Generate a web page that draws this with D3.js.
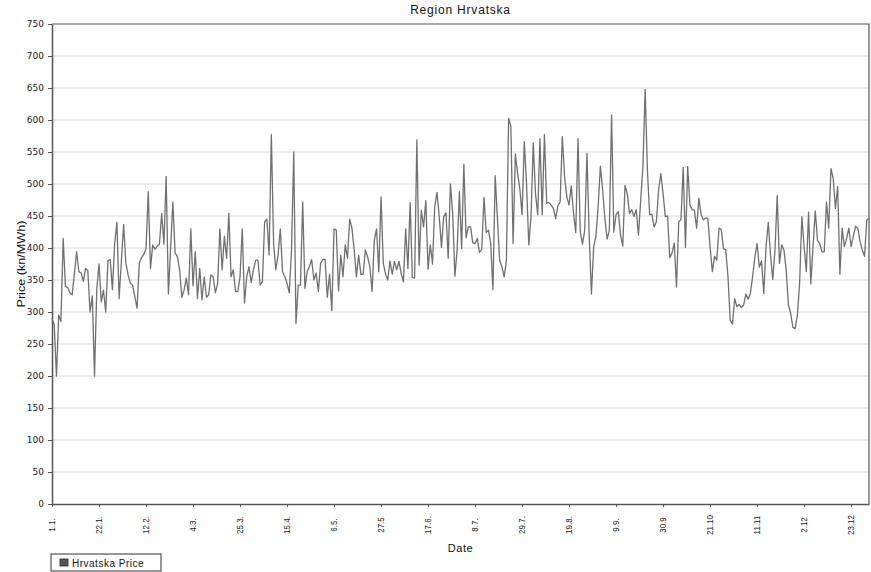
<!DOCTYPE html>
<html lang="en">
<head>
    <meta charset="UTF-8">
    <title>Region Hrvatska</title>
    <script src="https://cdn.jsdelivr.net/npm/d3@7/dist/d3.min.js"></script>
    <style>
        body { margin: 0; background: #fff; }
        svg { display: block; }
    </style>
</head>
<body>
<div id="container"></div>
<script>
    // daily price, 1.1. to 31.12. (leap year, 366 days)
    var prices = [
        290, 280, 200, 295, 285, 415, 340, 338, 330, 327,
        360, 394, 363, 361, 348, 368, 365, 300, 325, 200,
        335, 375, 316, 334, 300, 380, 382, 335, 407, 440,
        321, 380, 437, 376, 358, 345, 342, 324, 306, 376,
        385, 390, 399, 488, 368, 405, 398, 403, 406, 454,
        406, 512, 328, 400, 472, 392, 387, 366, 323, 334,
        353, 327, 430, 341, 394, 321, 368, 319, 355, 323,
        327, 358, 355, 330, 345, 430, 366, 418, 384, 454,
        355, 366, 332, 332, 355, 430, 314, 355, 371, 346,
        366, 381, 381, 342, 347, 441, 445, 389, 577, 407,
        366, 389, 430, 363, 355, 345, 330, 397, 550, 282,
        342, 342, 472, 337, 363, 371, 382, 350, 361, 332,
        376, 382, 382, 323, 359, 302, 430, 428, 333, 389,
        355, 405, 384, 445, 431, 397, 355, 389, 359, 359,
        397, 386, 371, 332, 412, 430, 363, 480, 376, 360,
        350, 380, 359, 379, 366, 379, 360, 347, 430, 368,
        471, 354, 353, 569, 373, 459, 433, 474, 367, 405,
        375, 465, 487, 449, 401, 449, 455, 384, 500, 454,
        356, 397, 488, 399, 531, 416, 433, 433, 408, 407,
        415, 393, 398, 479, 424, 428, 407, 335, 513, 446,
        380, 371, 355, 379, 603, 590, 407, 547, 517, 493,
        452, 566, 501, 405, 449, 564, 485, 452, 571, 452,
        577, 470, 471, 467, 462, 446, 466, 472, 574, 511,
        480, 467, 497, 454, 424, 571, 425, 406, 428, 548,
        418, 328, 402, 418, 465, 528, 491, 446, 414, 428,
        608, 425, 452, 457, 420, 403, 498, 485, 454, 460,
        449, 460, 420, 475, 527, 648, 522, 452, 453, 433,
        441, 491, 516, 485, 449, 450, 385, 392, 408, 339,
        441, 444, 526, 401, 527, 467, 460, 459, 431, 478,
        452, 444, 447, 446, 402, 363, 387, 381, 431, 429,
        399, 397, 355, 287, 281, 321, 308, 312, 307, 311,
        328, 320, 329, 355, 386, 407, 370, 380, 329, 402,
        440, 389, 351, 397, 482, 376, 405, 397, 366, 311,
        298, 276, 274, 295, 345, 449, 402, 363, 456, 344,
        402, 458, 412, 407, 394, 394, 472, 431, 524, 509,
        462, 496, 359, 431, 402, 415, 431, 402, 418, 434,
        431, 410, 397, 387, 444, 446
    ];
    var tickLabels = ["1.1.", "22.1.", "12.2.", "4.3.", "25.3.", "15.4.", "6.5.", "27.5",
        "17.6.", "8.7.", "29.7.", "19.8.", "9.9.", "30.9", "21.10", "11.11", "2.12", "23.12"];
    var tickDays = d3.range(0, 366, 21);
    var yTicks = d3.range(0, 751, 50);

    var width = 871, height = 572;
    var margin = {top: 24, right: 2, bottom: 68, left: 52};

    let svg = d3.select("#container")
        .append("svg")
        .attr("width", width)
        .attr("height", height);

    let x = d3.scaleLinear()
        .domain([0, prices.length - 1])
        .range([margin.left, width - margin.right]);
    let y = d3.scaleLinear()
        .domain([0, 750])
        .range([height - margin.bottom, margin.top]);

    // grid
    svg.append("g")
        .selectAll("line")
        .data(yTicks.filter(d => d > 0 && d < 750))
        .join("line")
        .attr("x1", x(0)).attr("x2", x(365))
        .attr("y1", d => y(d)).attr("y2", d => y(d))
        .attr("stroke", "#dcdcdc")
        .attr("stroke-width", 1);

    // frame top/right
    svg.append("path")
        .attr("d", "M" + x(0) + "," + y(750) + "H" + x(365) + "V" + y(0))
        .attr("fill", "none")
        .attr("stroke", "#555")
        .attr("stroke-width", 1.2);

    let yAxis = svg.append("g")
        .attr("transform", "translate(" + x(0) + ",0)")
        .call(d3.axisLeft(y).tickValues(yTicks).tickSize(4).tickPadding(4).tickSizeOuter(0));
    yAxis.select(".domain").attr("stroke", "#555").attr("stroke-width", 1.5);
    yAxis.selectAll(".tick line").attr("stroke", "#555");
    yAxis.selectAll("text")
        .style("font-family", "DejaVu Sans, sans-serif")
        .style("font-size", "9px")
        .attr("fill", "#222");

    let xAxis = svg.append("g")
        .attr("transform", "translate(0," + y(0) + ")")
        .call(d3.axisBottom(x).tickValues(tickDays).tickSize(3).tickSizeOuter(0)
            .tickFormat((d, i) => tickLabels[i]));
    xAxis.select(".domain").attr("stroke", "#555").attr("stroke-width", 1.5);
    xAxis.selectAll(".tick line").attr("stroke", "#555");
    xAxis.selectAll("text")
        .attr("transform", "rotate(-90) scale(1,1.1)")
        .attr("text-anchor", "middle")
        .attr("x", -21)
        .attr("y", 0)
        .attr("dy", "0.32em")
        .style("font-family", "Liberation Sans Narrow, Liberation Sans, sans-serif")
        .style("font-size", "8px")
        .attr("fill", "#222");

    let line = d3.line()
        .x((d, i) => x(i))
        .y(d => y(d));

    svg.append("path")
        .datum(prices)
        .attr("d", line)
        .attr("fill", "none")
        .attr("stroke", "#707070")
        .attr("stroke-width", 1.3)
        .attr("stroke-linejoin", "round");

    svg.append("text")
        .attr("x", (x(0) + x(365)) / 2)
        .attr("y", 14)
        .attr("text-anchor", "middle")
        .style("font-family", "Liberation Sans, sans-serif")
        .style("font-size", "12px")
        .style("letter-spacing", "0.8px")
        .attr("fill", "#111")
        .text("Region Hrvatska");

    svg.append("text")
        .attr("x", (x(0) + x(365)) / 2)
        .attr("y", 552)
        .attr("text-anchor", "middle")
        .style("font-family", "Liberation Sans, sans-serif")
        .style("font-size", "11px")
        .style("letter-spacing", "0.6px")
        .attr("fill", "#111")
        .text("Date");

    svg.append("text")
        .attr("transform", "translate(25," + (y(0) + y(750)) / 2 + ") rotate(-90) scale(1.15,1)")
        .attr("text-anchor", "middle")
        .style("font-family", "Liberation Sans Narrow, Liberation Sans, sans-serif")
        .style("font-size", "11px")
        .attr("fill", "#111")
        .text("Price (kn/MWh)");

    // legend
    let legend = svg.append("g").attr("transform", "translate(51,554)");
    legend.append("rect")
        .attr("width", 110).attr("height", 17)
        .attr("fill", "#fff").attr("stroke", "#333").attr("stroke-width", 1);
    legend.append("rect")
        .attr("x", 9).attr("y", 5).attr("width", 8).attr("height", 7)
        .attr("fill", "#555").attr("stroke", "#222").attr("stroke-width", 0.8);
    legend.append("text")
        .attr("x", 21).attr("y", 12.5)
        .style("font-family", "Liberation Sans, sans-serif")
        .style("font-size", "10px")
        .style("letter-spacing", "0.5px")
        .attr("fill", "#111")
        .text("Hrvatska Price");
</script>
</body>
</html>
